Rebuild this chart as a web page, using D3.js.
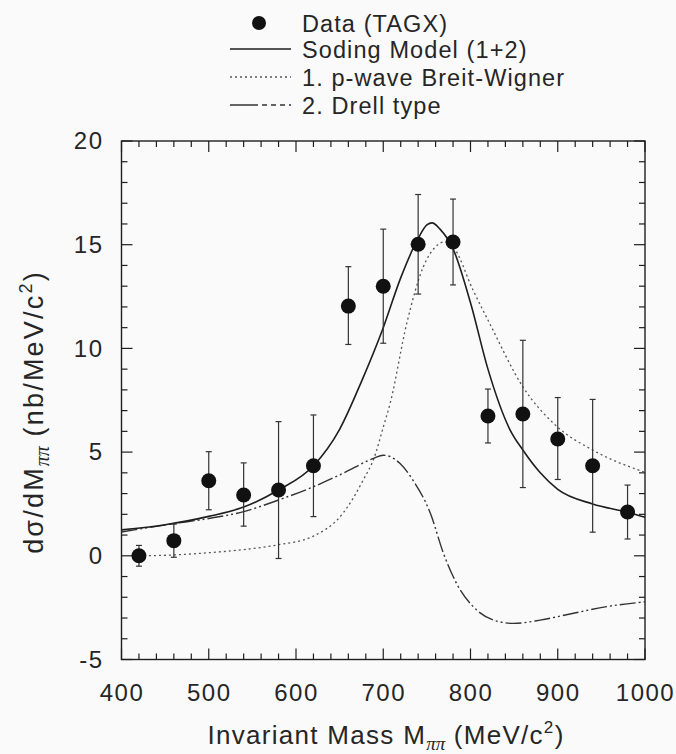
<!DOCTYPE html>
<html>
<head>
<meta charset="utf-8">
<script src="https://cdn.jsdelivr.net/npm/d3@7/dist/d3.min.js"></script>
<style>
  html, body { margin: 0; padding: 0; background: #fafafa; }
  svg { display: block; }
  text { font-family: "Liberation Sans", Arial, Helvetica, sans-serif; fill: #262626; }
</style>
</head>
<body>
<svg id="chart" width="676" height="754"></svg>
<script>
// Measured dσ/dMππ points (TAGX)
const massPoints = [420, 460, 500, 540, 580, 620, 660, 700, 740, 780, 820, 860, 900, 940, 980];
const crossSection = [0.0, 0.73, 3.62, 2.93, 3.17, 4.34, 12.04, 13.0, 15.02, 15.13, 6.74, 6.84, 5.63, 4.34, 2.11];
const errLow  = [0.5, 0.8, 1.4, 1.5, 3.3, 2.45, 1.85, 2.75, 2.4, 2.07, 1.3, 3.55, 1.95, 3.2, 1.3];
const errHigh = [0.5, 0.8, 1.4, 1.55, 3.3, 2.45, 1.9, 2.75, 2.4, 2.07, 1.3, 3.55, 2.0, 3.2, 1.3];

// Soding model (1+2)
const sodingMass = [400, 450, 500, 540, 580, 620, 650, 675, 700, 720, 740, 750, 756, 765, 780, 800, 820, 845, 860, 880, 900, 940, 980, 1000];
const sodingValue = [1.25, 1.5, 1.9, 2.35, 3.17, 4.34, 6.1, 8.4, 11.0, 13.4, 15.3, 15.95, 16.05, 15.75, 14.8, 12.2, 9.0, 6.1, 5.1, 4.0, 3.2, 2.5, 2.1, 1.86];

// 1. p-wave Breit-Wigner
const bwMass = [420, 460, 500, 540, 578, 620, 654, 677, 690, 700, 708, 727, 746, 760, 770, 780, 803, 822, 860, 900, 940, 1000];
const bwValue = [0.0, 0.04, 0.15, 0.3, 0.52, 0.95, 2.06, 3.65, 4.78, 6.2, 7.37, 11.22, 13.94, 14.9, 15.13, 14.9, 12.8, 11.2, 8.15, 6.2, 5.1, 4.02];

// 2. Drell type
const drellMass = [400, 460, 500, 540, 580, 620, 654, 689, 700, 708, 719, 734, 754, 769, 784, 807, 838, 849, 880, 918, 956, 1000];
const drellValue = [1.15, 1.55, 1.8, 2.13, 2.69, 3.33, 3.98, 4.7, 4.85, 4.78, 4.46, 3.65, 2.05, 0.12, -1.33, -2.61, -3.22, -3.26, -3.1, -2.77, -2.45, -2.22];

const xTicks = [400, 500, 600, 700, 800, 900, 1000];
const yTicks = [-5, 0, 5, 10, 15, 20];

const legendLabels = ["Data (TAGX)", "Soding Model (1+2)", "1. p-wave Breit-Wigner", "2. Drell type"];

const svg = d3.select("#chart");
const ink = "#1e1e1e";

const frame = { left: 121.5, right: 645, top: 141, bottom: 659.5 };
const x = d3.scaleLinear().domain([400, 1000]).range([frame.left, frame.right]);
const y = d3.scaleLinear().domain([-5, 20]).range([frame.bottom, frame.top]);

const tickFont = 24;

// frame
svg.append("rect")
  .attr("x", frame.left).attr("y", frame.top)
  .attr("width", frame.right - frame.left).attr("height", frame.bottom - frame.top)
  .attr("fill", "none").attr("stroke", ink).attr("stroke-width", 1.4);

// inward ticks on all four sides
const xMinor = d3.range(400, 1001, 20);
const yMinor = d3.range(-5, 20.01, 1);
const tickG = svg.append("g").attr("stroke", ink).attr("stroke-width", 1.2);
xMinor.forEach(v => {
  const major = v % 100 === 0;
  const len = major ? 11 : 6;
  tickG.append("line").attr("x1", x(v)).attr("x2", x(v)).attr("y1", frame.bottom).attr("y2", frame.bottom - len);
  tickG.append("line").attr("x1", x(v)).attr("x2", x(v)).attr("y1", frame.top).attr("y2", frame.top + len);
});
yMinor.forEach(v => {
  const major = v % 5 === 0;
  const len = major ? 11 : 6;
  tickG.append("line").attr("y1", y(v)).attr("y2", y(v)).attr("x1", frame.left).attr("x2", frame.left + len);
  tickG.append("line").attr("y1", y(v)).attr("y2", y(v)).attr("x1", frame.right).attr("x2", frame.right - len);
});

// tick labels via d3 axes (tick lines hidden, frame ticks drawn above)
const xAxis = svg.append("g")
  .attr("transform", `translate(0,${frame.bottom})`)
  .call(d3.axisBottom(x).tickValues(xTicks).tickSize(0).tickPadding(24).tickFormat(d3.format("d")));
const yAxis = svg.append("g")
  .attr("transform", `translate(${frame.left},0)`)
  .call(d3.axisLeft(y).tickValues(yTicks).tickSize(0).tickPadding(18).tickFormat(d => d < 0 ? "-" + Math.abs(d) : d));
[xAxis, yAxis].forEach(a => {
  a.select(".domain").remove();
  a.selectAll("text").attr("font-size", tickFont).attr("fill", "#262626")
    .style("font-family", '"Liberation Sans", Arial, sans-serif').style("letter-spacing", "1.5px");
});

// curves
const line = d3.line().x(d => x(d[0])).y(d => y(d[1])).curve(d3.curveMonotoneX);
const zip = (a, b) => a.map((v, i) => [v, b[i]]);

const curves = svg.append("g").attr("fill", "none");
curves.append("path").datum(zip(bwMass, bwValue)).attr("d", line)
  .attr("stroke", "#555").attr("stroke-width", 1.3).attr("stroke-dasharray", "2,3");
curves.append("path").datum(zip(drellMass, drellValue)).attr("d", line)
  .attr("stroke", "#333").attr("stroke-width", 1.4).attr("stroke-dasharray", "16,3,2,3,2,3");
curves.append("path").datum(zip(sodingMass, sodingValue)).attr("d", line)
  .attr("stroke", ink).attr("stroke-width", 1.6);

// data points with error bars
const pts = svg.append("g");
massPoints.forEach((m, i) => {
  const cx = x(m);
  const lo = y(crossSection[i] - errLow[i]);
  const hi = y(crossSection[i] + errHigh[i]);
  pts.append("line").attr("x1", cx).attr("x2", cx).attr("y1", lo).attr("y2", hi)
    .attr("stroke", "#333").attr("stroke-width", 1.2);
  [lo, hi].forEach(yy => pts.append("line").attr("x1", cx - 3).attr("x2", cx + 3)
    .attr("y1", yy).attr("y2", yy).attr("stroke", "#333").attr("stroke-width", 1.2));
  pts.append("circle").attr("cx", cx).attr("cy", y(crossSection[i])).attr("r", 7.5).attr("fill", "#111");
});

// axis titles
const subFont = '"Liberation Serif", "DejaVu Serif", serif';
const xt = svg.append("text").attr("x", 386).attr("y", 744).attr("text-anchor", "middle")
  .attr("font-size", 26).style("letter-spacing", "1.3px");
xt.append("tspan").text("Invariant Mass M");
xt.append("tspan").attr("font-size", 19).attr("dy", 6)
  .style("font-family", subFont).style("font-style", "italic").style("letter-spacing", "0px").text("ππ");
xt.append("tspan").attr("dy", -6).text(" (MeV/c");
xt.append("tspan").attr("font-size", 17).attr("dy", -11).text("2");
xt.append("tspan").attr("dy", 11).text(")");

const yt = svg.append("text").attr("transform", "translate(43,412) rotate(-90)")
  .attr("text-anchor", "middle").attr("font-size", 27).style("letter-spacing", "2.2px");
yt.append("tspan").text("dσ/dM");
yt.append("tspan").attr("font-size", 20).attr("dy", 6)
  .style("font-family", subFont).style("font-style", "italic").style("letter-spacing", "0px").text("ππ");
yt.append("tspan").attr("dy", -6).text(" (nb/MeV/c");
yt.append("tspan").attr("font-size", 18).attr("dy", -11).text("2");
yt.append("tspan").attr("dy", 11).text(")");

// legend
const legend = svg.append("g");
const rowY = [23, 49, 77, 105];
const lx0 = 230, lx1 = 291, tx = 302;
legend.append("circle").attr("cx", 259).attr("cy", rowY[0]).attr("r", 7).attr("fill", "#111");
legend.append("line").attr("x1", lx0).attr("x2", lx1).attr("y1", rowY[1]).attr("y2", rowY[1])
  .attr("stroke", ink).attr("stroke-width", 1.5);
legend.append("line").attr("x1", lx0).attr("x2", lx1).attr("y1", rowY[2]).attr("y2", rowY[2])
  .attr("stroke", "#555").attr("stroke-width", 1.3).attr("stroke-dasharray", "2,3");
legend.append("line").attr("x1", lx0).attr("x2", lx1).attr("y1", rowY[3]).attr("y2", rowY[3])
  .attr("stroke", "#333").attr("stroke-width", 1.4).attr("stroke-dasharray", "28,4,5,4,5,4,5,4");
legendLabels.forEach((t, i) => {
  legend.append("text").attr("x", tx).attr("y", rowY[i] + 8.5).attr("font-size", 23.5)
    .style("letter-spacing", "1.1px").text(t);
});
</script>
</body>
</html>
